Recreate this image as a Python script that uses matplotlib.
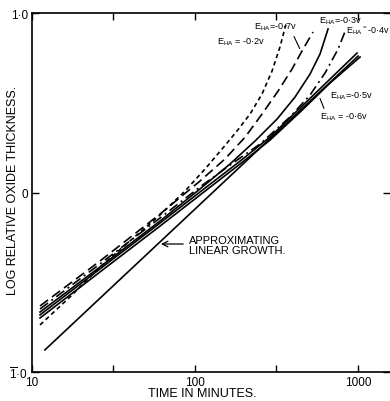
import matplotlib
matplotlib.use("Agg")
import matplotlib.pyplot as plt

plt.rcParams['font.family'] = ['Liberation Sans', 'DejaVu Sans']
plt.rcParams['mathtext.default'] = 'regular'

# ---- data (time in minutes, log relative oxide thickness) ----
t_linear = [12.0, 1000]
y_linear = [-0.877, 0.760]

t_m05 = [11.2, 26.1, 61.0, 107.3, 189, 288.5, 440.9, 673.4, 986]
y_m05 = [-0.682, -0.426, -0.170, 0.003, 0.175, 0.309, 0.471, 0.632, 0.777]

t_m06 = [11.2, 26.1, 61.0, 107.3, 189, 288.5, 440.9, 673.4, 1029]
y_m06 = [-0.699, -0.443, -0.187, -0.014, 0.159, 0.292, 0.448, 0.610, 0.755]

t_m03 = [11.2, 26.1, 61.0, 107.3, 164, 233.4, 318.5, 410.7, 507.6, 584.6, 654.6]
y_m03 = [-0.666, -0.415, -0.159, 0.020, 0.159, 0.287, 0.409, 0.532, 0.660, 0.772, 0.911]

t_m04 = [11.2, 26.1, 61.0, 107.3, 164, 250.5, 382.6, 507.6, 627.6, 754, 844]
y_m04 = [-0.649, -0.398, -0.142, 0.031, 0.153, 0.270, 0.421, 0.543, 0.666, 0.799, 0.911]

t_m07 = [11.2, 26.1, 61.0, 107.3, 152.8, 203, 257.6, 323, 393.6, 459.9, 529.6]
y_m07 = [-0.632, -0.382, -0.120, 0.064, 0.187, 0.309, 0.437, 0.565, 0.688, 0.799, 0.894]

t_m02 = [11.2, 17.1, 26.1, 39.9, 61.0, 86.8, 115.2, 146.4, 181, 217.5, 257.6, 296.8, 332, 361.6]
y_m02 = [-0.738, -0.582, -0.415, -0.270, -0.125, 0.008, 0.131, 0.242, 0.343, 0.437, 0.549, 0.677, 0.811, 0.939]

x_ticks = [10, 31.6, 100, 316, 1000]
x_tick_labels = ["10", "", "100", "", "1000"]
y_ticks = [-1.0, 0.0, 1.0]
y_tick_labels = [r"$\overline{1}$·0", "0", "1·0"]

# ---- figure ----
fig = plt.figure(figsize=(3.9, 4.02), dpi=100)
ax = fig.add_axes([32/390, 1-373/402, 1-32/390, (373-14)/402])
ax.set_xscale("log")
ax.set_xlim(10, 1570)
ax.set_ylim(-1.0, 1.0)

lw = 1.2
ax.plot(t_linear, y_linear, color="black", lw=lw)
ax.plot(t_m05, y_m05, color="black", lw=lw)
ax.plot(t_m06, y_m06, color="black", lw=lw)
ax.plot(t_m03, y_m03, color="black", lw=lw)
ax.plot(t_m04, y_m04, color="black", lw=lw, dashes=(6, 2.5, 1.2, 2.5))
ax.plot(t_m07, y_m07, color="black", lw=lw, dashes=(6, 3))
ax.plot(t_m02, y_m02, color="black", lw=lw, dashes=(2.6, 2.0))

ax.set_xticks(x_ticks)
ax.set_xticklabels(x_tick_labels)
ax.minorticks_off()
ax.set_yticks(y_ticks)
ax.set_yticklabels(y_tick_labels)
ax.tick_params(direction="in", length=5, width=1.0, top=True, right=True,
               labelsize=8.5, pad=3, colors="black")
for s in ["left", "bottom", "top"]:
    ax.spines[s].set_linewidth(1.2)
ax.spines["right"].set_visible(False)

ax.set_xlabel("TIME IN MINUTES.", fontsize=9)
ax.xaxis.set_label_coords((202-32)/358, -(388-373)/359)
ax.set_ylabel("LOG RELATIVE OXIDE THICKNESS.", fontsize=9)
ax.yaxis.set_label_coords((19-32)/358, (373-190)/359)

fs = 6.6
def lab(t, y, v, sep="="):
    ax.text(t, y, r"E$_{HA}$" + sep + "-" + v, fontsize=fs, va="center", ha="left")

lab(230, 0.928, "0·7v")
lab(136.5, 0.844, "0·2v", sep=" = ")
lab(576, 0.961, "0·3v")
ax.text(845, 0.905, r"E$_{HA}$$^{=}$-0·4v", fontsize=6.4, va="center", ha="left")
lab(670, 0.543, "0·5v")
lab(584, 0.426, "0·6v", sep=" = ")

ax.annotate("", xy=(446, 0.788), xytext=(398, 0.883),
            arrowprops=dict(arrowstyle="-", lw=0.8, color="black"))
ax.annotate("", xy=(576, 0.538), xytext=(627, 0.454),
            arrowprops=dict(arrowstyle="-", lw=0.8, color="black"))

ax.annotate("", xy=(59.4, -0.287), xytext=(88.0, -0.287),
            arrowprops=dict(arrowstyle="->", lw=0.9, color="black"))
ax.text(91.8, -0.292, "APPROXIMATING\nLINEAR GROWTH.", fontsize=8,
        va="center", ha="left", linespacing=1.1)

fig.savefig("out.png", dpi=100)
